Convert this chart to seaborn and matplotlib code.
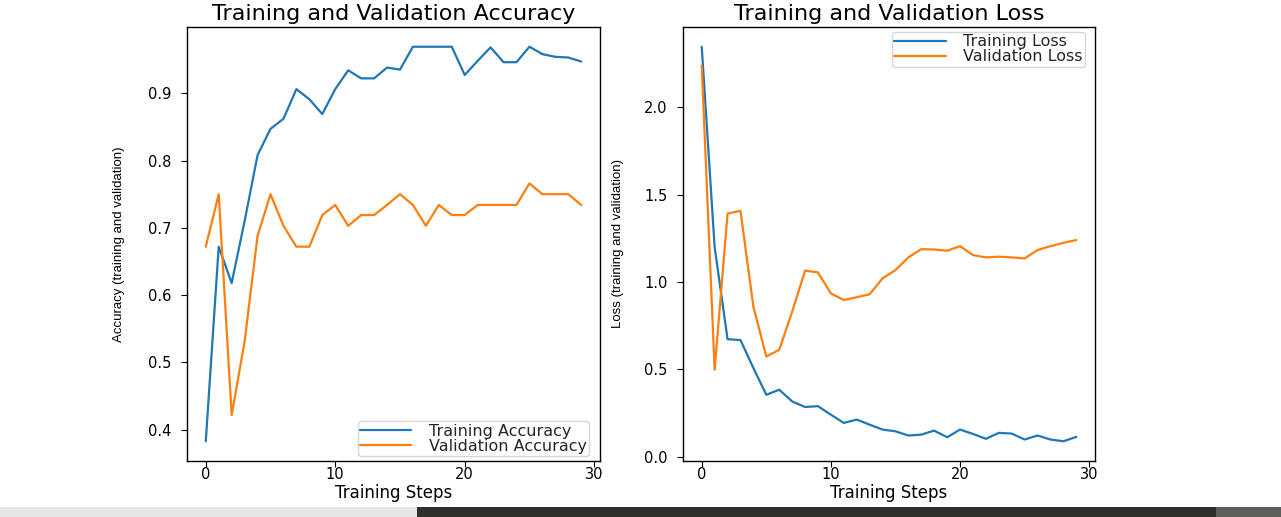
import numpy as np
import pandas as pd
import matplotlib
matplotlib.use("Agg")
import matplotlib.pyplot as plt
import seaborn as sns
from matplotlib.patches import Rectangle

steps = list(range(30))
train_acc = [0.383, 0.672, 0.618, 0.710, 0.808, 0.847, 0.862, 0.906, 0.891, 0.869,
             0.906, 0.934, 0.922, 0.922, 0.938, 0.935, 0.969, 0.969, 0.969, 0.969,
             0.927, 0.948, 0.968, 0.946, 0.946, 0.969, 0.958, 0.954, 0.953, 0.947]
val_acc = [0.672, 0.750, 0.422, 0.531, 0.688, 0.750, 0.703, 0.672, 0.672, 0.719,
           0.734, 0.703, 0.719, 0.719, 0.734, 0.750, 0.734, 0.703, 0.734, 0.719,
           0.719, 0.734, 0.734, 0.734, 0.734, 0.766, 0.750, 0.750, 0.750, 0.734]
train_loss = [2.346, 1.200, 0.673, 0.668, 0.508, 0.355, 0.384, 0.317, 0.285, 0.290,
              0.241, 0.194, 0.213, 0.184, 0.156, 0.146, 0.122, 0.127, 0.150, 0.112,
              0.156, 0.131, 0.103, 0.137, 0.133, 0.099, 0.122, 0.099, 0.089, 0.114]
val_loss = [2.238, 0.498, 1.392, 1.407, 0.859, 0.574, 0.612, 0.830, 1.065, 1.055,
            0.935, 0.897, 0.913, 0.930, 1.021, 1.068, 1.141, 1.188, 1.186, 1.179,
            1.205, 1.154, 1.141, 1.145, 1.141, 1.135, 1.183, 1.205, 1.224, 1.240]

sns.set_style("ticks")
plt.rcParams["font.family"] = ["DejaVu Sans"]

W, H = 1281, 517
fig = plt.figure(figsize=(W / 100, H / 100), dpi=100)
fig.patch.set_facecolor("white")

def ax_rect(l, r, t, b):
    return [l / W, (H - b) / H, (r - l) / W, (b - t) / H]

ax1 = fig.add_axes(ax_rect(187, 600, 27, 461))
ax2 = fig.add_axes(ax_rect(683, 1095, 27, 461))

blue = "#1f77b4"
orange = "#ff7f0e"

sns.lineplot(x=steps, y=train_acc, ax=ax1, color=blue, label="Training Accuracy", linewidth=1.6)
sns.lineplot(x=steps, y=val_acc, ax=ax1, color=orange, label="Validation Accuracy", linewidth=1.6)
sns.lineplot(x=steps, y=train_loss, ax=ax2, color=blue, label="Training Loss", linewidth=1.6)
sns.lineplot(x=steps, y=val_loss, ax=ax2, color=orange, label="Validation Loss", linewidth=1.6)

for ax, title, ylab in [(ax1, "Training and Validation Accuracy", "Accuracy (training and validation)"),
                        (ax2, "Training and Validation Loss", "Loss (training and validation)")]:
    ax.set_title(title, fontsize=16, color="black", pad=5)
    ax.set_xlabel("Training Steps", fontsize=12, color="black", labelpad=1)
    ax.set_ylabel(ylab, fontsize=9.5, family=["Liberation Sans", "DejaVu Sans"], color="black")
    ax.set_xticks([0, 10, 20, 30])
    ax.tick_params(labelsize=10.5, colors="black", direction="out", length=4)
    ax.tick_params(axis="x", pad=0.5)
    ax.tick_params(axis="y", pad=7)
    for s in ax.spines.values():
        s.set_color("black")
        s.set_linewidth(1.0)
    ax.margins(x=0.05, y=0.05)

ax1.set_yticks([0.4, 0.5, 0.6, 0.7, 0.8, 0.9])
ax2.set_yticks([0.0, 0.5, 1.0, 1.5, 2.0])
ax1.yaxis.set_label_coords(-0.15, 0.5)
ax2.yaxis.set_label_coords(-0.143, 0.5)

leg_kw = dict(fontsize=11.5, handlelength=3.2, handletextpad=1.1,
              labelspacing=0.0, borderpad=0.15, framealpha=0.8)
ax1.legend(loc="lower right", bbox_to_anchor=(1 - 11 / 413, 5 / 434), borderaxespad=0, **leg_kw)
ax2.legend(loc="upper right", bbox_to_anchor=(1 - 10 / 412, 1 - 5 / 434), borderaxespad=0, **leg_kw)

# screenshot taskbar strip at the bottom
fig.patches.append(Rectangle((0, 0), 417 / W, 10 / H, transform=fig.transFigure,
                             facecolor="#e6e6e6", edgecolor="none"))
fig.patches.append(Rectangle((417 / W, 0), (1216 - 417) / W, 10 / H, transform=fig.transFigure,
                             facecolor="#2e2e2a", edgecolor="none"))
fig.patches.append(Rectangle((1216 / W, 0), (W - 1216) / W, 10 / H, transform=fig.transFigure,
                             facecolor="#5e5e5a", edgecolor="none"))

fig.savefig("out.png", dpi=100)
